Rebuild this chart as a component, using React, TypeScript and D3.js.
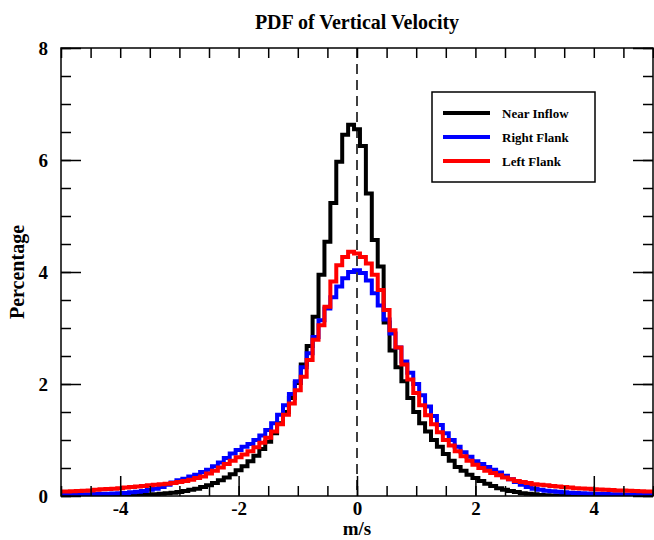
import React, { useEffect, useRef } from 'react';
import * as d3 from 'd3';

// PDF of vertical velocity: histogram bins of 0.1 m/s, centred on -5.0 ... 5.0
const binCenters = d3.range(-50, 51).map((i) => i / 10);

const nearInflow = [
  0, 0, 0, 0.005, 0.005, 0.005, 0.005, 0.005, 0.008, 0.008,
  0.01, 0.01, 0.012, 0.015, 0.02, 0.025, 0.03, 0.04, 0.05, 0.06,
  0.07, 0.09, 0.11, 0.13, 0.16, 0.19, 0.23, 0.28, 0.33, 0.39,
  0.46, 0.53, 0.62, 0.72, 0.84, 0.97, 1.12, 1.3, 1.5, 1.75,
  2.02, 2.35, 2.68, 3.2, 3.95, 4.54, 5.23, 5.97, 6.45, 6.63,
  6.55,
  6.25, 5.4, 4.57, 4.1, 3.1, 2.6, 2.3, 2.05, 1.75, 1.5,
  1.3, 1.15, 1.0, 0.88, 0.75, 0.63, 0.52, 0.45, 0.38, 0.32,
  0.27, 0.22, 0.18, 0.14, 0.11, 0.09, 0.07, 0.05, 0.04, 0.03,
  0.02, 0.015, 0.01, 0.008, 0.005, 0.005, 0.003, 0.003, 0.002, 0.002,
  0, 0, 0, 0, 0, 0, 0, 0, 0, 0,
];

const rightFlank = [
  0.02, 0.022, 0.025, 0.027, 0.03, 0.032, 0.035, 0.038, 0.04, 0.045,
  0.05, 0.055, 0.065, 0.075, 0.09, 0.11, 0.13, 0.16, 0.2, 0.24,
  0.28, 0.31, 0.35, 0.38, 0.43, 0.47, 0.53, 0.6, 0.68, 0.76,
  0.82, 0.88, 0.93, 1.0, 1.08, 1.18, 1.3, 1.45, 1.62, 1.82,
  2.05, 2.3, 2.55, 2.84, 3.14, 3.35, 3.55, 3.74, 3.89, 4.0,
  4.03,
  3.98, 3.85, 3.62, 3.4, 3.15, 2.9, 2.65, 2.4, 2.2, 2.0,
  1.8, 1.6, 1.43, 1.27, 1.12, 1.0, 0.88, 0.78, 0.7, 0.62,
  0.57, 0.52, 0.47, 0.42, 0.36, 0.3, 0.25, 0.2, 0.16, 0.13,
  0.11, 0.095, 0.085, 0.075, 0.065, 0.06, 0.055, 0.05, 0.045, 0.04,
  0.038, 0.035, 0.032, 0.03, 0.028, 0.026, 0.024, 0.022, 0.021, 0.02,
];

const leftFlank = [
  0.08, 0.08, 0.085, 0.09, 0.095, 0.1, 0.11, 0.12, 0.125, 0.13,
  0.14, 0.15, 0.16, 0.17, 0.18, 0.19, 0.2, 0.21, 0.22, 0.23,
  0.25, 0.27, 0.29, 0.32, 0.35, 0.4, 0.45, 0.51, 0.57, 0.63,
  0.69, 0.74, 0.8, 0.87, 0.95, 1.04, 1.15, 1.28, 1.45, 1.65,
  1.89, 2.13, 2.43, 2.79, 3.05, 3.38, 3.83, 4.12, 4.27, 4.36,
  4.33,
  4.27, 4.15, 3.95, 3.68, 3.32, 2.96, 2.65, 2.35, 2.08, 1.84,
  1.62, 1.44, 1.28, 1.14, 1.0, 0.9, 0.8, 0.71, 0.63, 0.56,
  0.5, 0.45, 0.41, 0.37, 0.33, 0.3, 0.27, 0.25, 0.23, 0.21,
  0.2, 0.19, 0.18, 0.17, 0.16, 0.15, 0.14, 0.135, 0.13, 0.12,
  0.115, 0.11, 0.105, 0.1, 0.1, 0.095, 0.09, 0.085, 0.08, 0.08,
];

const seriesNames = ['Near Inflow', 'Right Flank', 'Left Flank'];
const seriesColors = ['#000000', '#0000ff', '#ff0000'];
const seriesValues = [nearInflow, rightFlank, leftFlank];

const xMajorTicks = [-4, -2, 0, 2, 4];
const yMajorTicks = [0, 2, 4, 6, 8];

const WIDTH = 654;
const HEIGHT = 540;
const FONT = '"Liberation Serif", "Times New Roman", serif';

export default function App() {
  const svgRef = useRef<SVGSVGElement>(null);

  useEffect(() => {
    const svg = d3.select(svgRef.current);
    svg.selectAll('*').remove();

    const margin = { top: 48, right: 1, bottom: 44, left: 61 };
    const x = d3.scaleLinear().domain([-5, 5]).range([margin.left, WIDTH - margin.right]);
    const y = d3.scaleLinear().domain([0, 8]).range([HEIGHT - margin.bottom, margin.top]);
    const [x0, x1] = x.range();
    const [y0, y1] = y.range();

    svg.append('rect').attr('width', WIDTH).attr('height', HEIGHT).attr('fill', '#fff');

    svg.append('clipPath').attr('id', 'plot-clip')
      .append('rect')
      .attr('x', x0).attr('y', y1)
      .attr('width', x1 - x0).attr('height', y0 - y1);

    // zero line
    svg.append('line')
      .attr('x1', x(0)).attr('x2', x(0))
      .attr('y1', y1).attr('y2', y0)
      .attr('stroke', '#000')
      .attr('stroke-width', 1.5)
      .attr('stroke-dasharray', '10,6');

    // histogram steps
    const line = d3.line<number>()
      .x((_, i) => x(binCenters[i]))
      .y((d) => y(d))
      .curve(d3.curveStep);

    const plot = svg.append('g').attr('clip-path', 'url(#plot-clip)');
    seriesValues.forEach((vals, k) => {
      plot.append('path')
        .datum(vals)
        .attr('fill', 'none')
        .attr('stroke', seriesColors[k])
        .attr('stroke-width', 4)
        .attr('stroke-linejoin', 'miter')
        .attr('d', line);
    });

    const minorX = d3.range(-10, 11).map((i) => i / 2);
    const minorY = d3.range(0, 17).map((i) => i / 2);

    const styleAxis = (g: any) => {
      g.select('.domain').remove();
      g.selectAll('line').attr('stroke', '#000').attr('stroke-width', 1.5);
      g.selectAll('text')
        .attr('font-family', FONT)
        .attr('font-weight', 'bold')
        .attr('font-size', 19)
        .attr('fill', '#000');
    };

    // bottom
    svg.append('g').attr('transform', `translate(0,${y0})`)
      .call(d3.axisBottom(x).tickValues(minorX).tickSize(-10).tickFormat(() => ''))
      .call(styleAxis);
    svg.append('g').attr('transform', `translate(0,${y0})`)
      .call(d3.axisBottom(x).tickValues(xMajorTicks).tickSize(-20).tickPadding(6)
        .tickFormat((d) => String(d)))
      .call(styleAxis);
    // top
    svg.append('g').attr('transform', `translate(0,${y1})`)
      .call(d3.axisTop(x).tickValues(minorX).tickSize(-10).tickFormat(() => ''))
      .call(styleAxis);
    // left
    svg.append('g').attr('transform', `translate(${x0},0)`)
      .call(d3.axisLeft(y).tickValues(minorY).tickSize(-10).tickFormat(() => ''))
      .call(styleAxis);
    svg.append('g').attr('transform', `translate(${x0},0)`)
      .call(d3.axisLeft(y).tickValues(yMajorTicks).tickSize(-20).tickPadding(13)
        .tickFormat((d) => String(d)))
      .call(styleAxis);
    // right
    svg.append('g').attr('transform', `translate(${x1},0)`)
      .call(d3.axisRight(y).tickValues(minorY).tickSize(-10).tickFormat(() => ''))
      .call(styleAxis);
    svg.append('g').attr('transform', `translate(${x1},0)`)
      .call(d3.axisRight(y).tickValues(yMajorTicks).tickSize(-20).tickFormat(() => ''))
      .call(styleAxis);

    // frame
    svg.append('rect')
      .attr('x', x0).attr('y', y1)
      .attr('width', x1 - x0).attr('height', y0 - y1)
      .attr('fill', 'none')
      .attr('stroke', '#000')
      .attr('stroke-width', 1.5);

    // titles
    svg.append('text')
      .attr('x', x(0)).attr('y', 29)
      .attr('text-anchor', 'middle')
      .attr('font-family', FONT).attr('font-weight', 'bold').attr('font-size', 20)
      .text('PDF of Vertical Velocity');

    svg.append('text')
      .attr('x', x(0)).attr('y', 535)
      .attr('text-anchor', 'middle')
      .attr('font-family', FONT).attr('font-weight', 'bold').attr('font-size', 19)
      .text('m/s');

    svg.append('text')
      .attr('transform', `translate(24,${(y0 + y1) / 2}) rotate(-90)`)
      .attr('text-anchor', 'middle')
      .attr('font-family', FONT).attr('font-weight', 'bold').attr('font-size', 20)
      .text('Percentage');

    // legend
    const lg = svg.append('g').attr('transform', 'translate(432,92)');
    lg.append('rect')
      .attr('width', 163).attr('height', 90)
      .attr('fill', '#fff').attr('stroke', '#000').attr('stroke-width', 1.5);
    seriesNames.forEach((name, k) => {
      const ly = 21 + k * 24;
      lg.append('line')
        .attr('x1', 11).attr('x2', 58).attr('y1', ly).attr('y2', ly)
        .attr('stroke', seriesColors[k]).attr('stroke-width', 4);
      lg.append('text')
        .attr('x', 70).attr('y', ly).attr('dy', '0.35em')
        .attr('font-family', FONT).attr('font-weight', 'bold').attr('font-size', 13)
        .text(name);
    });
  }, []);

  return (
    <svg
      ref={svgRef}
      width={WIDTH}
      height={HEIGHT}
      style={{ position: 'absolute', left: 0, top: 0, display: 'block' }}
    />
  );
}
